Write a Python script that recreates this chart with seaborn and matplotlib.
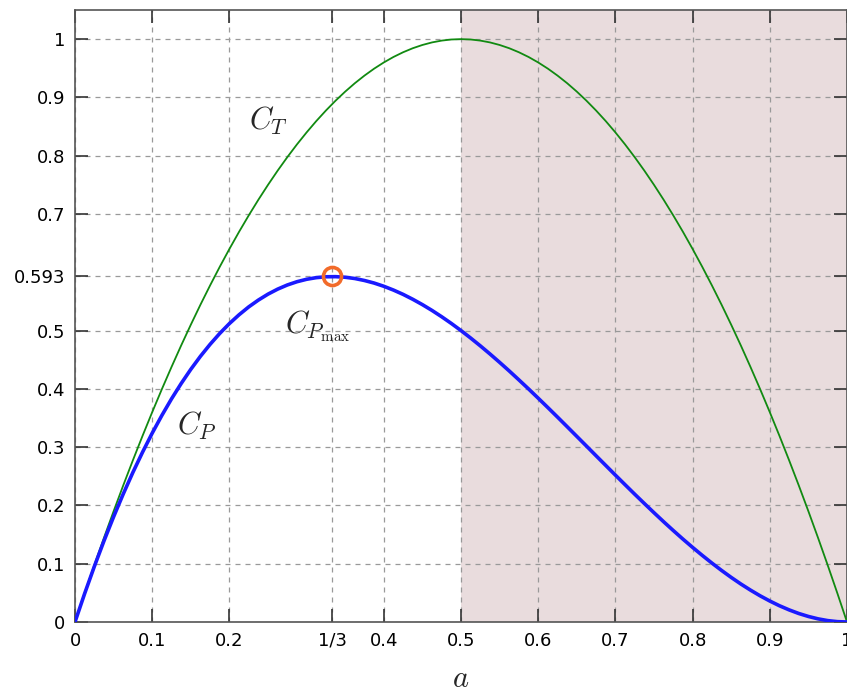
## Betz limit: thrust and power coefficient vs axial induction factor a

import matplotlib.pyplot as plt
import numpy as np
import pandas as pd
import seaborn as sns

# values, every 0.0125 in a
a_vals = [0, 0.0125, 0.025, 0.0375, 0.05, 0.0625, 0.075, 0.0875, 0.1, 0.1125,
          0.125, 0.1375, 0.15, 0.1625, 0.175, 0.1875, 0.2, 0.2125, 0.225, 0.2375,
          0.25, 0.2625, 0.275, 0.2875, 0.3, 0.3125, 0.325, 0.3375, 0.35, 0.3625,
          0.375, 0.3875, 0.4, 0.4125, 0.425, 0.4375, 0.45, 0.4625, 0.475, 0.4875,
          0.5, 0.5125, 0.525, 0.5375, 0.55, 0.5625, 0.575, 0.5875, 0.6, 0.6125,
          0.625, 0.6375, 0.65, 0.6625, 0.675, 0.6875, 0.7, 0.7125, 0.725, 0.7375,
          0.75, 0.7625, 0.775, 0.7875, 0.8, 0.8125, 0.825, 0.8375, 0.85, 0.8625,
          0.875, 0.8875, 0.9, 0.9125, 0.925, 0.9375, 0.95, 0.9625, 0.975, 0.9875, 1.0]
ct_vals = [0, 0.0494, 0.0975, 0.1444, 0.19, 0.2344, 0.2775, 0.3194, 0.36, 0.3994,
           0.4375, 0.4744, 0.51, 0.5444, 0.5775, 0.6094, 0.64, 0.6694, 0.6975, 0.7244,
           0.75, 0.7744, 0.7975, 0.8194, 0.84, 0.8594, 0.8775, 0.8944, 0.91, 0.9244,
           0.9375, 0.9494, 0.96, 0.9694, 0.9775, 0.9844, 0.99, 0.9944, 0.9975, 0.9994,
           1.0, 0.9994, 0.9975, 0.9944, 0.99, 0.9844, 0.9775, 0.9694, 0.96, 0.9494,
           0.9375, 0.9244, 0.91, 0.8944, 0.8775, 0.8594, 0.84, 0.8194, 0.7975, 0.7744,
           0.75, 0.7244, 0.6975, 0.6694, 0.64, 0.6094, 0.5775, 0.5444, 0.51, 0.4744,
           0.4375, 0.3994, 0.36, 0.3194, 0.2775, 0.2344, 0.19, 0.1444, 0.0975, 0.0494, 0]
cp_vals = [0, 0.0488, 0.0951, 0.1390, 0.1805, 0.2197, 0.2567, 0.2914, 0.324, 0.3544,
           0.3828, 0.4091, 0.4335, 0.4559, 0.4764, 0.4951, 0.512, 0.5271, 0.5406, 0.5523,
           0.5625, 0.5711, 0.5782, 0.5838, 0.588, 0.5908, 0.5923, 0.5925, 0.5915, 0.5893,
           0.5859, 0.5815, 0.576, 0.5695, 0.5621, 0.5537, 0.5445, 0.5345, 0.5237, 0.5122,
           0.5, 0.4872, 0.4738, 0.4599, 0.4455, 0.4307, 0.4154, 0.3999, 0.384, 0.3679,
           0.3516, 0.3351, 0.3185, 0.3019, 0.2852, 0.2686, 0.252, 0.2356, 0.2193, 0.2033,
           0.1875, 0.1720, 0.1569, 0.1422, 0.128, 0.1143, 0.1011, 0.0885, 0.0765, 0.0652,
           0.0547, 0.0449, 0.036, 0.0279, 0.0208, 0.0146, 0.0095, 0.0054, 0.0024, 0.0006, 0]
cp_max_a = [1 / 3]
cp_max_val = [0.593]

x_ticks = [0, 0.1, 0.2, 1 / 3, 0.4, 0.5, 0.6, 0.7, 0.8, 0.9, 1.0]
x_ticklabels = ["0", "0.1", "0.2", "1/3", "0.4", "0.5", "0.6", "0.7", "0.8", "0.9", "1"]
y_ticks = [0, 0.1, 0.2, 0.3, 0.4, 0.5, 0.593, 0.7, 0.8, 0.9, 1.0]
y_ticklabels = ["0", "0.1", "0.2", "0.3", "0.4", "0.5", "0.593", "0.7", "0.8", "0.9", "1"]

sns.set_style("ticks")
plt.rcParams["font.family"] = ["DejaVu Sans"]
plt.rcParams["mathtext.fontset"] = "cm"

df = pd.DataFrame({"a": a_vals, "CT": ct_vals, "CP": cp_vals})

fig = plt.figure(figsize=(8.47, 6.93), dpi=100)
ax = fig.add_axes([75 / 847, 1 - 622 / 693, 1 - 75 / 847, (622 - 10) / 693])

# shaded region a > 0.5
ax.axvspan(0.5, 1.0, color="#e9dcdd", zorder=0, lw=0)

sns.lineplot(data=df, x="a", y="CT", ax=ax, color="#118a11", lw=1.3, zorder=3)
sns.lineplot(data=df, x="a", y="CP", ax=ax, color="#1a1aff", lw=2.6, zorder=4)
ax.plot(cp_max_a, cp_max_val, "o", ms=13, mfc="none", mec="#f26b2a", mew=2.6, zorder=5)

ax.set_xlim(0, 1)
ax.set_ylim(0, 1.05)
ax.set_xticks(x_ticks)
ax.set_xticklabels(x_ticklabels)
ax.set_yticks(y_ticks)
ax.set_yticklabels(y_ticklabels)
ax.tick_params(direction="in", length=9.5, width=1.2, colors="#333333",
               labelcolor="black", labelsize=13, pad=7,
               top=True, right=True)
ax.set_axisbelow(True)
ax.grid(True, ls=(0, (4, 4)), color="#999999", lw=0.9)
for sp in ax.spines.values():
    sp.set_color("#555555")
    sp.set_linewidth(1.2)

ax.set_xlabel("$a$", fontsize=22, labelpad=10)
ax.set_ylabel("")

ax.text(0.225, 0.845, "$C_T$", fontsize=22)
ax.text(0.132, 0.322, "$C_P$", fontsize=22)
ax.text(0.272, 0.495, r"$C_{P_{\mathrm{max}}}$", fontsize=22)

plt.savefig("out.png", dpi=100)
plt.close()
